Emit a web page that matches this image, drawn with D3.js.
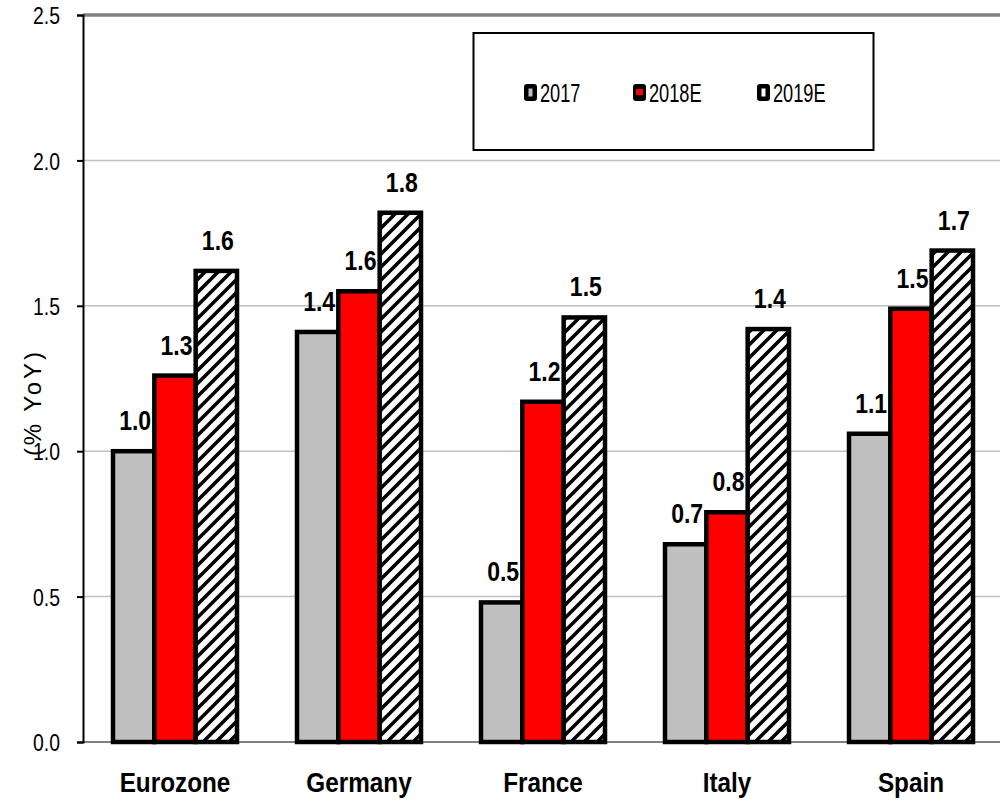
<!DOCTYPE html>
<html>
<head>
<meta charset="utf-8">
<script src="https://cdn.jsdelivr.net/npm/d3@7"></script>
<style>
  html, body { margin: 0; padding: 0; background: #fff; }
  svg { display: block; font-family: "Liberation Sans", Arial, sans-serif; }
</style>
</head>
<body>
<svg id="chart" width="1000" height="801"></svg>
<script>
// GDP growth by country, % YoY
const countries = ["Eurozone", "Germany", "France", "Italy", "Spain"];
const seriesNames = ["2017", "2018E", "2019E"];
const growth2017 = [1.00, 1.41, 0.48, 0.68, 1.06];
const growth2018E = [1.26, 1.55, 1.17, 0.79, 1.49];
const growth2019E = [1.62, 1.82, 1.46, 1.42, 1.69];
const yTicks = [0.0, 0.5, 1.0, 1.5, 2.0, 2.5];
const yTitle = "(% YoY)";

const seriesValues = [growth2017, growth2018E, growth2019E];
const rows = countries.map((c, i) => ({
  country: c,
  values: seriesNames.map((s, j) => ({ series: s, value: seriesValues[j][i] }))
}));

const svg = d3.select("#chart");
const plot = { left: 83, right: 1003, top: 15, bottom: 742 };

const y = d3.scaleLinear().domain([0, 2.5]).range([plot.bottom, plot.top]);
const x0 = d3.scaleBand().domain(countries)
  .range([plot.left, plot.right])
  .paddingInner(60 / 184).paddingOuter(30 / 184);
const x1 = d3.scaleBand().domain(seriesNames).range([0, x0.bandwidth()]);

const fills = { "2017": "#c0c0c0", "2018E": "#ff0000", "2019E": "url(#hatch)" };

// squeeze a text element horizontally to a fraction of its natural width
function narrow(sel, factor) {
  sel.each(function () {
    const w = this.getComputedTextLength();
    d3.select(this).attr("textLength", w * factor).attr("lengthAdjust", "spacingAndGlyphs");
  });
}

// diagonal hatch used by the 2019E bars
const defs = svg.append("defs");
const pat = defs.append("pattern")
  .attr("id", "hatch").attr("patternUnits", "userSpaceOnUse")
  .attr("width", 13).attr("height", 13);
pat.append("rect").attr("width", 13).attr("height", 13).attr("fill", "#fff");
pat.append("path")
  .attr("d", "M-3,16 L16,-3 M-3,3 L3,-3 M10,16 L16,10")
  .attr("stroke", "#000").attr("stroke-width", 3.6);

// horizontal gridlines
svg.append("g").selectAll("line")
  .data(yTicks.filter(t => t > 0 && t < 2.5))
  .join("line")
  .attr("x1", plot.left).attr("x2", 1000)
  .attr("y1", d => y(d)).attr("y2", d => y(d))
  .attr("stroke", "#c0c0c0").attr("stroke-width", 1.5);

// plot frame: top edge and baseline
svg.append("line")
  .attr("x1", plot.left).attr("x2", 1000)
  .attr("y1", y(2.5)).attr("y2", y(2.5))
  .attr("stroke", "#808080").attr("stroke-width", 3.5);
svg.append("line")
  .attr("x1", plot.left).attr("x2", 1000)
  .attr("y1", y(0)).attr("y2", y(0))
  .attr("stroke", "#808080").attr("stroke-width", 2);

// y axis
const yAxis = svg.append("g")
  .attr("transform", `translate(${plot.left},0)`)
  .call(d3.axisLeft(y).tickValues(yTicks).tickFormat(d3.format(".1f"))
    .tickSize(6).tickPadding(17));
yAxis.select(".domain").attr("stroke", "#000").attr("stroke-width", 2);
yAxis.selectAll(".tick line").attr("stroke", "#000").attr("stroke-width", 2);
yAxis.selectAll(".tick text")
  .attr("fill", "#000")
  .style("font-size", "24px")
  .attr("dy", "0.36em")
  .attr("textLength", 27).attr("lengthAdjust", "spacingAndGlyphs");

// y axis title
svg.append("text")
  .attr("transform", `translate(41,404) rotate(-90)`)
  .attr("text-anchor", "middle")
  .style("font-size", "24px")
  .attr("textLength", 104).attr("lengthAdjust", "spacing")
  .text(yTitle);

// bars
const groups = svg.append("g").selectAll("g")
  .data(rows).join("g")
  .attr("transform", d => `translate(${x0(d.country)},0)`);

groups.selectAll("rect")
  .data(d => d.values).join("rect")
  .attr("x", d => x1(d.series))
  .attr("y", d => y(d.value))
  .attr("width", x1.bandwidth())
  .attr("height", d => y(0) - y(d.value))
  .attr("fill", d => fills[d.series])
  .attr("stroke", "#000").attr("stroke-width", 4.5);

// value labels
groups.selectAll("text.val")
  .data(d => d.values).join("text")
  .attr("class", "val")
  .attr("x", d => x1(d.series) + x1.bandwidth() / 2 + 1.5)
  .attr("y", d => y(d.value) - 21)
  .attr("text-anchor", "middle")
  .style("font-size", "27px").style("font-weight", "bold")
  .attr("textLength", 32).attr("lengthAdjust", "spacingAndGlyphs")
  .text(d => d3.format(".1f")(d.value));

// category labels
svg.append("g").selectAll("text")
  .data(countries).join("text")
  .attr("x", d => x0(d) + x0.bandwidth() / 2)
  .attr("y", 792)
  .attr("text-anchor", "middle")
  .style("font-size", "27px").style("font-weight", "bold")
  .text(d => d)
  .call(narrow, 0.9);

// legend
const legend = svg.append("g");
legend.append("rect")
  .attr("x", 473.5).attr("y", 33).attr("width", 400).attr("height", 117)
  .attr("fill", "#fff").attr("stroke", "#000").attr("stroke-width", 2);

const legendX = [524, 633, 757];
const innerFill = { "2017": "#c0c0c0", "2018E": "#ff0000", "2019E": "#ffffff" };
const items = legend.selectAll("g.item")
  .data(seriesNames).join("g")
  .attr("class", "item")
  .attr("transform", (d, i) => `translate(${legendX[i]},0)`);
items.append("rect")
  .attr("x", 0).attr("y", 84).attr("width", 13).attr("height", 17).attr("rx", 3)
  .attr("fill", "#000");
items.append("rect")
  .attr("x", d => d === "2018E" ? 3 : 4.5)
  .attr("y", d => d === "2018E" ? 89 : 88.5)
  .attr("width", d => d === "2018E" ? 7 : 4)
  .attr("height", d => d === "2018E" ? 6 : 8)
  .attr("fill", d => innerFill[d]);
items.append("text")
  .attr("x", 16).attr("y", 102)
  .style("font-size", "26px")
  .text(d => d)
  .call(narrow, 0.7);
</script>
</body>
</html>
